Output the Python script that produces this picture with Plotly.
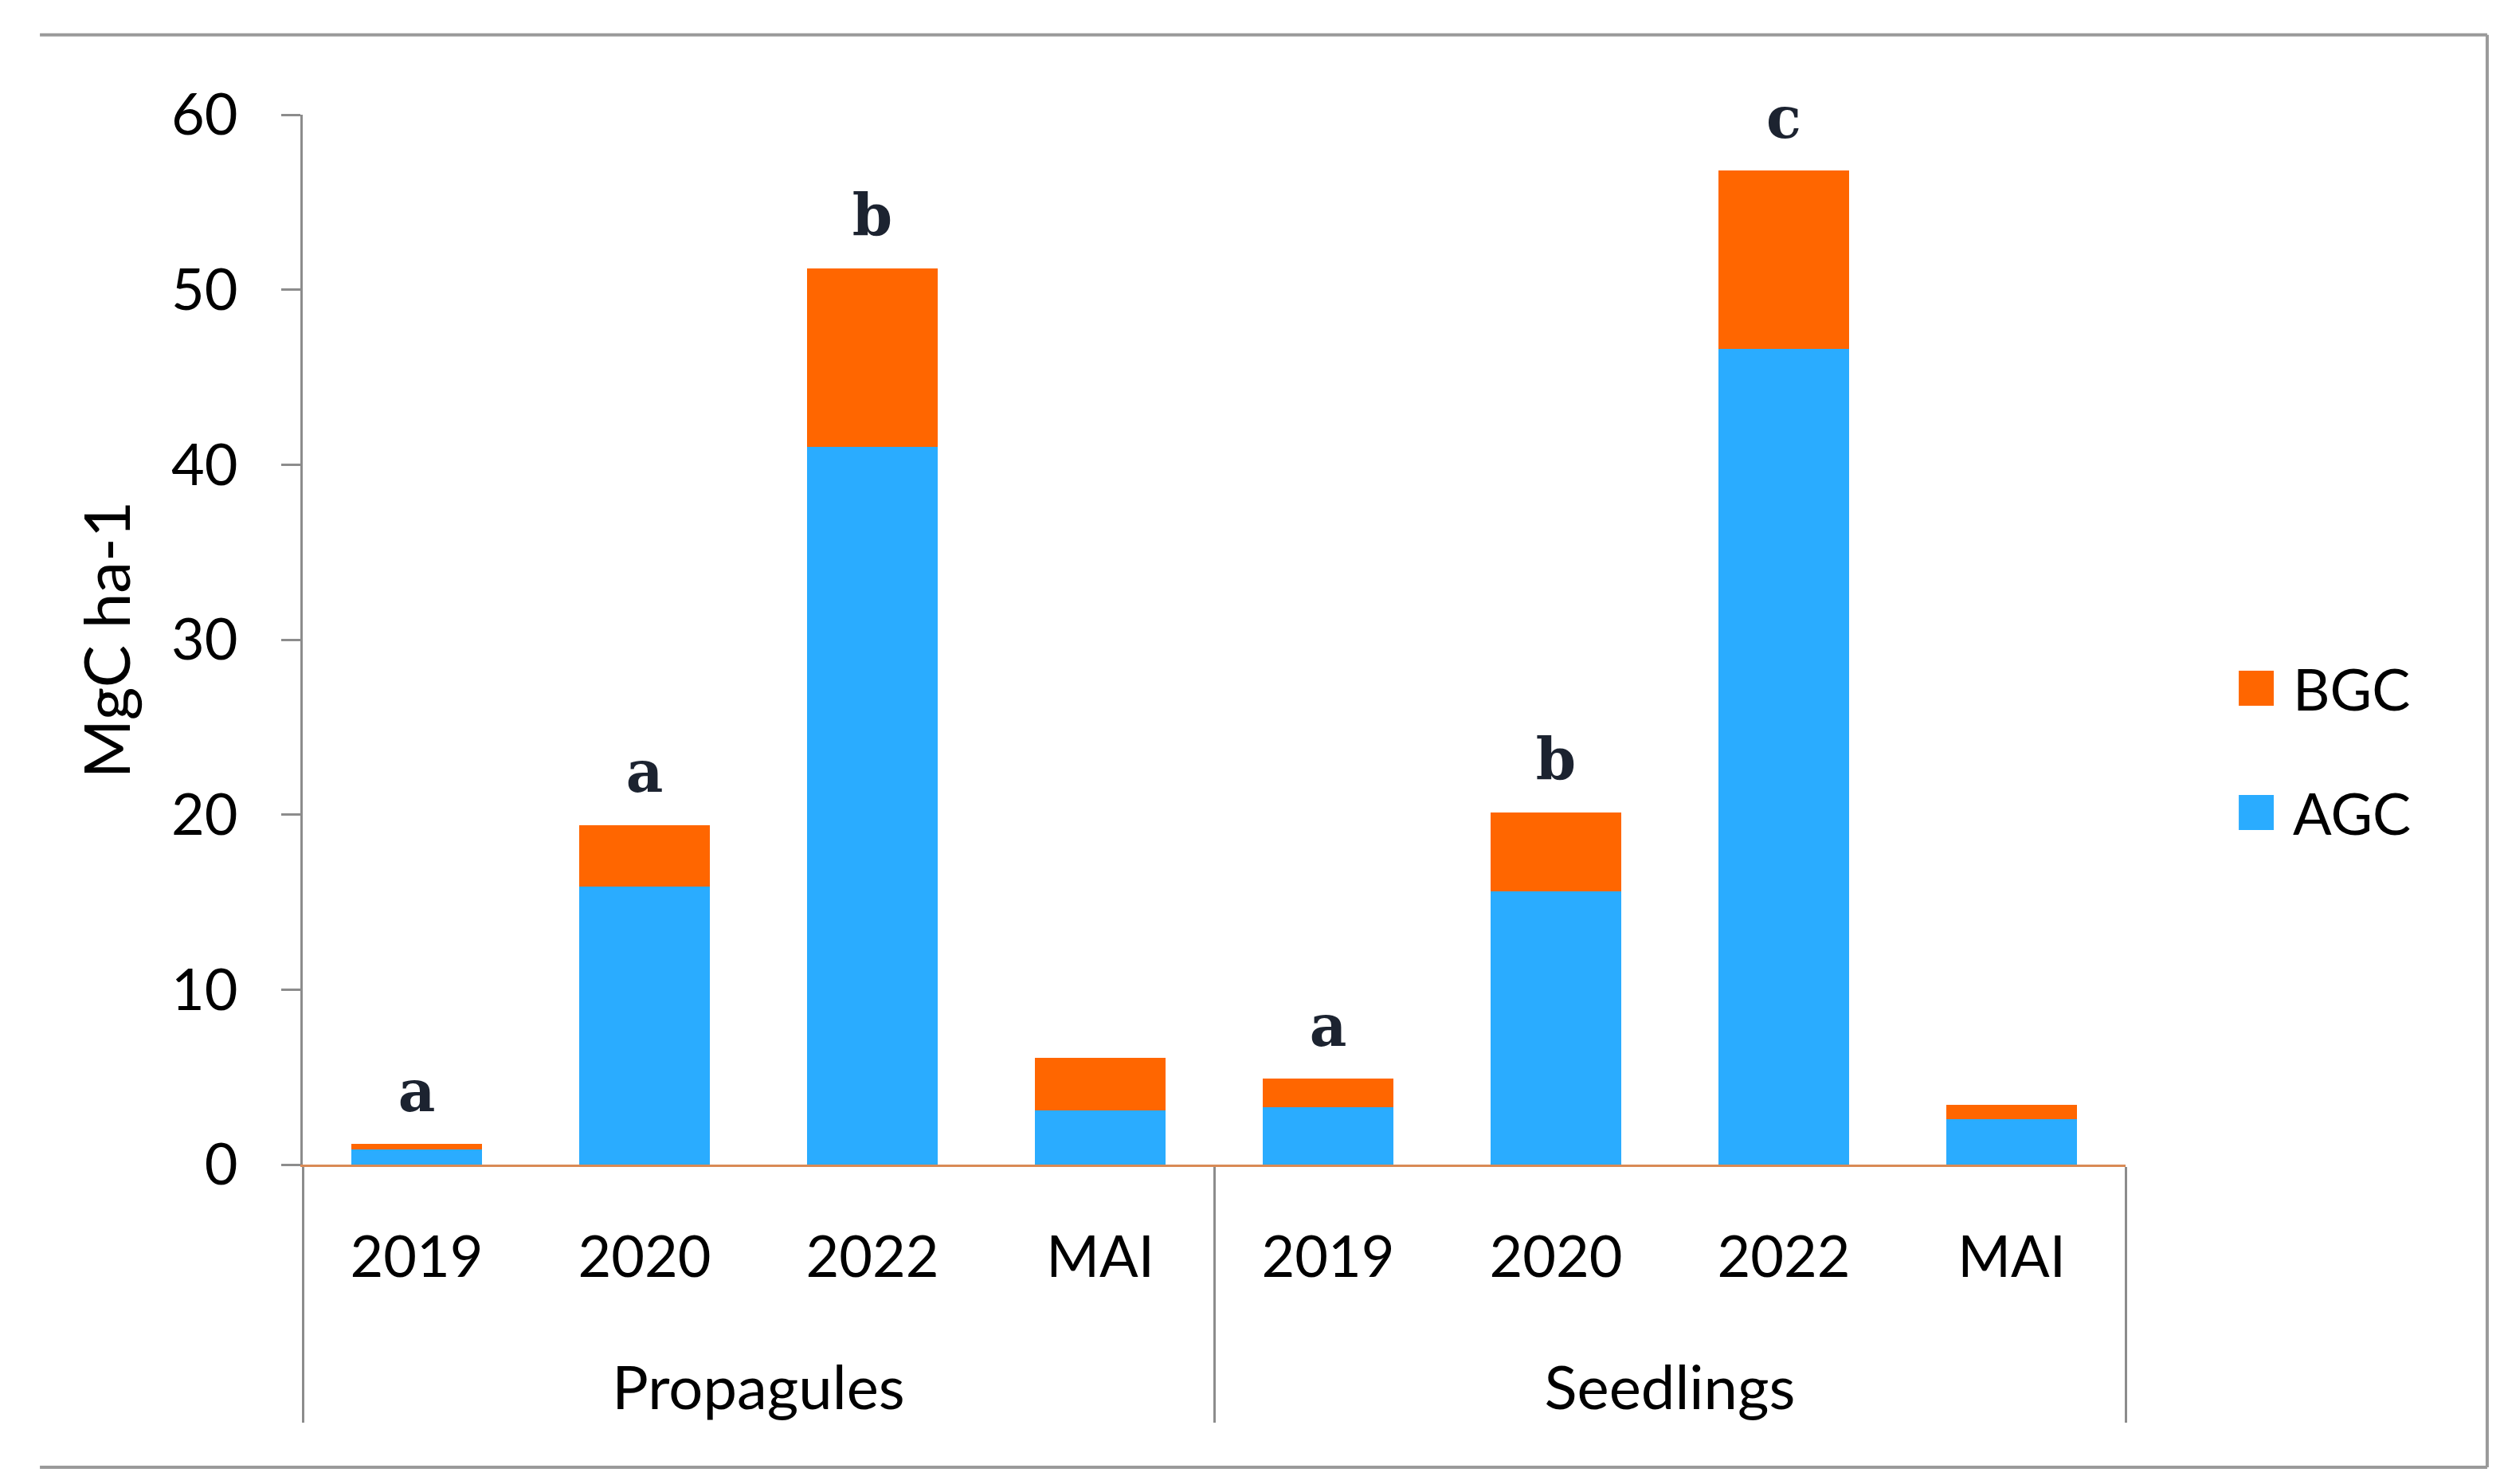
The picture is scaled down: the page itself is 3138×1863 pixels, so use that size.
import plotly.graph_objects as go

# ---- data ----
groups = ["Propagules"] * 4 + ["Seedlings"] * 4
periods = ["2019", "2020", "2022", "MAI"] * 2
agc = [0.86, 15.9, 41.0, 3.1, 3.3, 15.6, 46.6, 2.6]
bgc = [0.32, 3.5, 10.2, 3.0, 1.6, 4.5, 10.2, 0.8]
letters = ["a", "a", "b", "", "a", "b", "c", ""]
y_ticks = [0, 10, 20, 30, 40, 50, 60]

totals = [a + b for a, b in zip(agc, bgc)]

# display labels (an empty second line gives room between the two label rows)
period_labels = ["<span style='font-size:72px'>" + p + "</span><br> " for p in periods]
group_labels = ["<span style='font-size:76px'>" + g + "</span>" for g in groups]
x_cats = [group_labels, period_labels]

AGC_COLOR = "#2AACFF"
BGC_COLOR = "#FF6600"
AXIS_GRAY = "#8C8C8C"
FONT = "Lato"

fig = go.Figure()
fig.add_trace(go.Bar(x=x_cats, y=agc, name="AGC",
                     marker=dict(color=AGC_COLOR, line=dict(width=0)),
                     showlegend=False))
fig.add_trace(go.Bar(x=x_cats, y=bgc, name="BGC",
                     marker=dict(color=BGC_COLOR, line=dict(width=0)),
                     showlegend=False))
fig.add_trace(go.Scatter(x=x_cats, y=totals, mode="markers+text",
                         text=letters, textposition="top center",
                         marker=dict(size=36, opacity=0),
                         textfont=dict(family="DejaVu Serif", size=72,
                                       color="#1C2330", weight="bold"),
                         cliponaxis=False,
                         hoverinfo="skip", showlegend=False))

fig.update_layout(
    width=3130, height=1855,
    margin=dict(l=372, r=470, t=136, b=401),
    paper_bgcolor="white", plot_bgcolor="white",
    barmode="stack", bargap=0.43,
    font=dict(family=FONT, size=72, color="black"),
    showlegend=False,
)

fig.update_yaxes(
    range=[0, 60], tickvals=y_ticks, showgrid=False, zeroline=False,
    showline=True, linecolor=AXIS_GRAY, linewidth=3,
    ticks="outside", ticklen=24, tickwidth=3, tickcolor=AXIS_GRAY,
    ticklabelstandoff=40,
    tickfont=dict(family=FONT, size=72),
    title=dict(text="MgC ha-1", font=dict(family=FONT, size=80), standoff=26),
)
fig.update_xaxes(
    type="multicategory", showgrid=False, zeroline=False,
    showline=True, linecolor="#D98A55", linewidth=3,
    ticks="", showdividers=True, dividercolor=AXIS_GRAY, dividerwidth=3,
    ticklabelstandoff=36,
    tickfont=dict(family=FONT, size=85),
)

# outer frame (top, right, bottom edges)
frame = dict(type="line", xref="paper", yref="paper",
             line=dict(color="#9A9A9A", width=4))
fig.add_shape(**frame, x0=-0.1442, x1=1.1984, y0=1.076, y1=1.076)
fig.add_shape(**frame, x0=1.1984, x1=1.1984, y0=1.076, y1=-0.2883)
fig.add_shape(**frame, x0=-0.1442, x1=1.1984, y0=-0.2883, y1=-0.2883)

# legend keys
legend_items = [("BGC", BGC_COLOR, 0.4537), ("AGC", AGC_COLOR, 0.3354)]
for name, color, yc in legend_items:
    fig.add_shape(type="rect", xref="paper", yref="paper",
                  x0=1.0621, x1=1.0813, y0=yc - 0.0167, y1=yc + 0.0167,
                  fillcolor=color, line=dict(width=0))
    fig.add_annotation(xref="paper", yref="paper", x=1.0909, y=yc,
                       xanchor="left", yanchor="middle", text=name,
                       showarrow=False, font=dict(family=FONT, size=72))

fig.write_html("out.html")
